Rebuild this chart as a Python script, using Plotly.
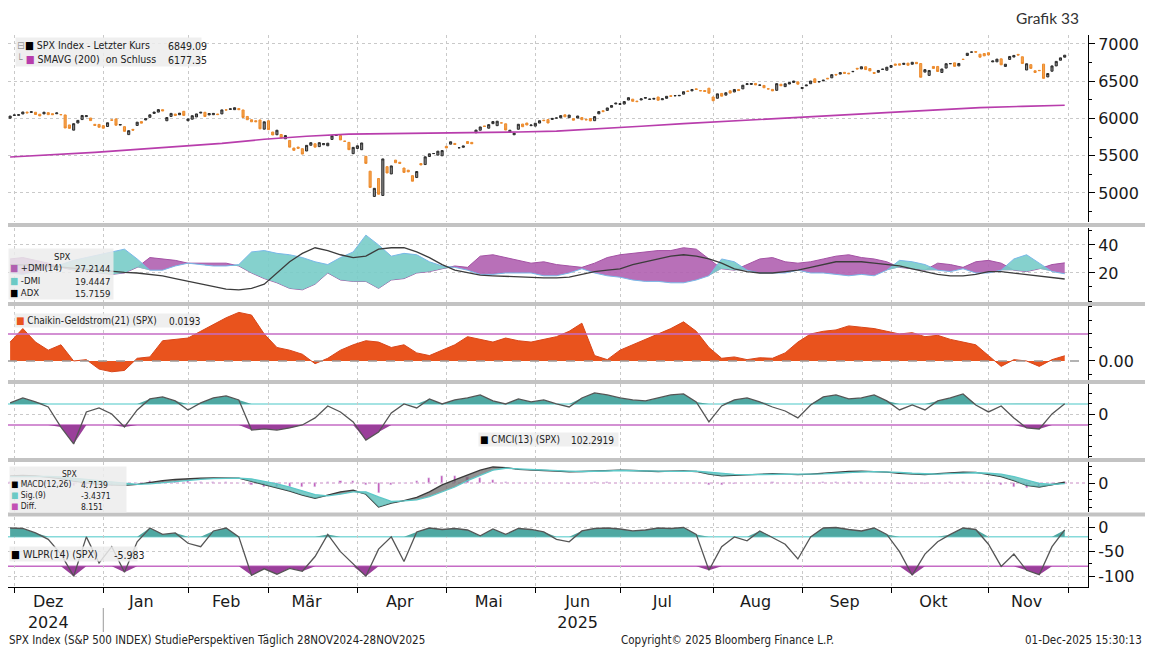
import numpy as np
import pandas as pd
import plotly.graph_objects as go
from plotly.subplots import make_subplots

# --- trading calendar (x axis) ---
HOLIDAYS = ["2024-11-28", "2024-12-25", "2025-01-01", "2025-01-09", "2025-01-20",
            "2025-02-17", "2025-04-18", "2025-05-26", "2025-06-19", "2025-07-04",
            "2025-09-01", "2025-11-27"]
TRADING_DAYS = pd.bdate_range("2024-11-29", "2025-11-28")
TRADING_DAYS = TRADING_DAYS[~TRADING_DAYS.isin(pd.to_datetime(HOLIDAYS))]

MONTH_TICKS = ["2024-12-12", "2025-01-16", "2025-02-14", "2025-03-14", "2025-04-15",
               "2025-05-15", "2025-06-16", "2025-07-16", "2025-08-15", "2025-09-16",
               "2025-10-15", "2025-11-14"]
MONTH_LABELS = ["Dez<br>2024", "Jan", "Feb", "Mär", "Apr", "Mai", "Jun<br>2025",
                "Jul", "Aug", "Sep", "Okt", "Nov"]
MONTH_STARTS = ["2024-12-02", "2025-01-02", "2025-02-03", "2025-03-03", "2025-04-01",
                "2025-05-01", "2025-06-02", "2025-07-01", "2025-08-01", "2025-09-02",
                "2025-10-01", "2025-11-03", "2025-12-01"]

# --- SPX daily bars (one value per trading day) ---
spx_close = (
    [6032]
    + [6047, 6050, 6087, 6075, 6090, 6053, 6034, 6084, 6051, 6051, 6074, 6050, 5872, 5867,
       5930, 5974, 6040, 6037, 5971, 5907, 5882]
    + [5869, 5942, 5975, 5909, 5918, 5827, 5836, 5843, 5950, 5937, 5997, 6049, 6086, 6119,
       6101, 6012, 6068, 6039, 6071, 6041]
    + [5994, 6037, 6061, 6083, 6026, 6066, 6068, 6052, 6115, 6114, 6129, 6144, 6117, 6013,
       5983, 5955, 5956, 5861, 5955]
    + [5850, 5778, 5842, 5739, 5770, 5615, 5572, 5599, 5522, 5639, 5675, 5615, 5675, 5663,
       5668, 5768, 5777, 5712, 5693, 5581, 5612]
    + [5633, 5671, 5397, 5074, 5062, 4983, 5457, 5268, 5363, 5406, 5397, 5276, 5283, 5158,
       5288, 5376, 5485, 5525, 5529, 5561, 5569]
    + [5604, 5687, 5650, 5607, 5631, 5664, 5660, 5844, 5886, 5892, 5917, 5958, 5963, 5940,
       5845, 5842, 5802, 5922, 5889, 5912, 5912]
    + [5936, 5970, 5971, 5939, 6000, 6006, 6038, 6022, 6045, 5977, 6033, 5983, 5981, 5967,
       6025, 6092, 6092, 6141, 6173, 6205]
    + [6198, 6227, 6279, 6230, 6226, 6263, 6280, 6260, 6269, 6244, 6264, 6297, 6297, 6306,
       6309, 6359, 6363, 6389, 6390, 6371, 6362, 6339]
    + [6238, 6330, 6299, 6345, 6340, 6389, 6374, 6446, 6466, 6469, 6450, 6449, 6412, 6396,
       6370, 6467, 6439, 6465, 6481, 6502, 6460]
    + [6416, 6448, 6502, 6482, 6495, 6513, 6532, 6588, 6584, 6615, 6606, 6600, 6631, 6664,
       6694, 6656, 6638, 6605, 6644, 6661, 6688]
    + [6711, 6715, 6716, 6740, 6714, 6754, 6735, 6553, 6655, 6644, 6671, 6630, 6664, 6735,
       6736, 6699, 6738, 6792, 6875, 6891, 6890, 6822, 6840]
    + [6852, 6771, 6796, 6720, 6728, 6832, 6846, 6851, 6737, 6734, 6672, 6617, 6642, 6538,
       6603, 6705, 6766, 6813, 6849]
)
spx_open = (
    [6003]
    + [6040, 6042, 6060, 6086, 6081, 6083, 6057, 6061, 6078, 6064, 6063, 6053, 6047, 5913,
       5843, 5939, 5985, 6024, 6006, 5921, 5920]
    + [5903, 5892, 5982, 5994, 5911, 5890, 5783, 5854, 5906, 5958, 5979, 6015, 6067, 6085,
       6118, 5969, 6027, 6059, 6050, 6096]
    + [5969, 5990, 6020, 6072, 6083, 6047, 6050, 6060, 6061, 6115, 6121, 6118, 6134, 6114,
       6027, 5983, 5970, 5980, 5856]
    + [5969, 5818, 5781, 5785, 5727, 5705, 5603, 5616, 5594, 5563, 5640, 5660, 5622, 5647,
       5633, 5718, 5771, 5772, 5696, 5679, 5527]
    + [5597, 5580, 5492, 5292, 4953, 5194, 4966, 5353, 5255, 5441, 5412, 5335, 5306, 5232,
       5207, 5395, 5381, 5489, 5529, 5508, 5499]
    + [5626, 5655, 5665, 5606, 5613, 5690, 5679, 5808, 5842, 5900, 5869, 5930, 5903, 5940,
       5928, 5813, 5781, 5855, 5925, 5939, 5903]
    + [5897, 5938, 5978, 5985, 5987, 6005, 6009, 6049, 6010, 5997, 6005, 6012, 5987, 5999,
       5970, 6062, 6104, 6108, 6150, 6194]
    + [6188, 6193, 6247, 6259, 6233, 6248, 6271, 6256, 6259, 6288, 6251, 6270, 6305, 6304,
       6304, 6326, 6368, 6370, 6397, 6374, 6375, 6406]
    + [6288, 6271, 6336, 6313, 6371, 6355, 6389, 6397, 6455, 6456, 6470, 6445, 6443, 6398,
       6390, 6377, 6459, 6427, 6462, 6483, 6491]
    + [6401, 6437, 6466, 6532, 6489, 6504, 6540, 6545, 6591, 6595, 6619, 6608, 6627, 6673,
       6665, 6694, 6670, 6617, 6620, 6658, 6647]
    + [6686, 6731, 6733, 6725, 6742, 6727, 6753, 6737, 6622, 6578, 6698, 6698, 6617, 6676,
       6735, 6746, 6705, 6795, 6845, 6890, 6897, 6862, 6871]
    + [6882, 6759, 6760, 6800, 6698, 6792, 6824, 6860, 6828, 6650, 6722, 6640, 6645, 6729,
       6557, 6634, 6705, 6781, 6822]
)
sma200 = [5483, 5510, 5545, 5585, 5625, 5665, 5720, 5762, 5790, 5795, 5800, 5808, 5818,
          5830, 5858, 5895, 5930, 5962, 5995, 6030, 6062, 6085, 6115, 6145, 6162, 6177]

# --- indicators (84 evenly spaced samples over the year) ---
dmi_plus = [30, 31, 29, 27, 24, 22, 21, 20, 19, 20,
            24, 31, 30, 29, 27, 27, 27, 27, 25, 20,
            16, 13, 9, 8, 12, 20, 15, 14, 14, 9,
            15, 16, 20, 21, 23, 25, 24, 32, 33, 31,
            29, 27, 28, 26, 25, 24, 27, 31, 33, 34,
            35, 36, 36, 38, 37, 30, 23, 22, 26, 30,
            31, 28, 27, 28, 30, 32, 33, 31, 30, 28,
            24, 23, 22, 27, 26, 24, 28, 29, 27, 22,
            21, 23, 26, 27.2144]
dmi_minus = [20, 19, 21, 23, 26, 29, 31, 33, 35, 37,
             30, 22, 22, 25, 27, 26, 25, 25, 26, 35,
             36, 34, 33, 31, 28, 26, 31, 35, 47, 40,
             32, 34, 33, 28, 25, 24, 22, 19, 19, 20,
             20, 20, 18, 18, 20, 23, 20, 18, 17, 15,
             14, 14, 13, 13, 15, 18, 30, 28, 22, 20,
             20, 20, 22, 20, 20, 19, 18, 19, 18, 22,
             29, 28, 26, 22, 21, 23, 20, 20, 22, 30,
             33, 27, 21, 19.4447]
adx = [26, 26, 25.5, 25, 24, 23, 22.5, 22, 21, 20.5,
       20, 19, 18, 16, 14, 12, 10, 8.5, 8, 9,
       12, 20, 28, 34, 38, 36, 33, 31, 32, 37,
       38, 38, 35, 31, 26, 22, 20, 18.5, 18, 17.5,
       17, 16.5, 16.5, 16.5, 17, 19, 21, 22, 23, 26,
       28, 30, 32, 33, 32, 30, 27, 23, 21, 20,
       20, 21, 22, 24, 26, 28, 28, 28, 27, 26,
       25, 23, 21, 19, 18, 18, 19, 21, 21, 20,
       19, 18, 17, 15.7159]
chaikin = [0.07, 0.12, 0.07, 0.04, 0.06, 0.0, 0.005, -0.03, -0.04, -0.035,
           0.01, 0.015, 0.075, 0.08, 0.085, 0.11, 0.135, 0.16, 0.18, 0.17,
           0.10, 0.05, 0.04, 0.025, -0.01, 0.01, 0.04, 0.06, 0.075, 0.07,
           0.05, 0.06, 0.03, 0.02, 0.04, 0.06, 0.09, 0.08, 0.07, 0.085,
           0.075, 0.07, 0.08, 0.09, 0.11, 0.14, 0.02, 0.005, 0.04, 0.06,
           0.08, 0.10, 0.12, 0.145, 0.11, 0.05, 0.01, 0.015, 0.005, 0.012,
           0.01, 0.03, 0.07, 0.1, 0.11, 0.115, 0.13, 0.125, 0.12, 0.11,
           0.1, 0.105, 0.09, 0.095, 0.08, 0.07, 0.06, 0.02, -0.02, 0.005,
           0.0, -0.02, 0.005, 0.0193]
cmci = [110, 157, 119, 71, -120, -280, 24, 62, 5, -119,
        43, 148, 167, 129, 43, 110, 157, 176, 138, -148,
        -138, -148, -128, -100, -33, 81, 24, -71, -243, -167,
        14, 100, 62, 148, 100, 138, 157, 186, 129, 100,
        148, 119, 138, 100, 71, 157, 205, 186, 157, 138,
        129, 157, 186, 195, 119, -71, 81, 138, 157, 119,
        71, 33, -33, 90, 167, 186, 148, 157, 186, 129,
        43, 90, 43, 129, 157, 195, 90, 24, 81, -33,
        -128, -138, 5, 102.2919]
macd = [45, 48, 45, 38, 28, 12, 2, -8, -12, -15,
        -8, 5, 15, 22, 28, 30, 32, 33, 30, 10,
        -10, -30, -50, -75, -95, -75, -55, -45, -70, -150,
        -125, -110, -90, -55, -12, 20, 50, 80, 100, 96,
        85, 80, 78, 75, 70, 72, 75, 78, 80, 78,
        75, 72, 74, 76, 72, 55, 45, 48, 52, 55,
        58, 55, 52, 56, 62, 68, 72, 74, 72, 68,
        60, 55, 52, 58, 64, 68, 66, 55, 40, 15,
        -15, -25, -12, 4.7139]
macd_sig = [40, 42, 44, 42, 38, 30, 22, 12, 4, -4,
            -8, -5, 2, 10, 18, 23, 27, 30, 31, 25,
            12, -5, -25, -50, -72, -80, -70, -55, -55, -87,
            -115, -112, -105, -85, -56, -25, 15, 50, 80, 92,
            88, 82, 80, 77, 74, 72, 72, 75, 78, 78,
            76, 74, 73, 74, 74, 68, 60, 54, 52, 53,
            55, 56, 55, 54, 57, 61, 66, 70, 71, 70,
            67, 62, 57, 56, 58, 62, 64, 62, 55, 40,
            18, -2, -8, -3.4371]
macd_diff = [5, 6, 1, -4, -10, -18, -20, -20, -16, -11,
             0, 10, 13, 12, 10, 7, 5, 3, -1, -15,
             -22, -25, -25, -25, -23, 5, 15, 10, -15, -63,
             -10, 2, 15, 30, 44, 45, 35, 30, 20, 4,
             -3, -2, -2, -2, -4, 0, 3, 3, 2, 0,
             -1, -2, 1, 2, -2, -13, -15, -6, 0, 2,
             3, -1, -3, 2, 5, 7, 6, 4, 1, -2,
             -7, -7, -5, 2, 6, 6, 2, -7, -15, -25,
             -33, -23, -4, 8.151]
wlpr = [-2, -3, -12, -25, -55, -100, -20, -73, -40, -92,
        -30, -2, -15, -12, -33, -40, -8, -2, -20, -98,
        -85, -96, -84, -90, -60, -15, -50, -75, -100, -45,
        -20, -70, -10, -2, -5, -3, -6, -18, -4, -15,
        -3, -5, -10, -25, -30, -8, -3, -2, -4, -8,
        -6, -2, -3, -1, -15, -88, -40, -20, -28, -8,
        -22, -35, -65, -20, -2, -1, -5, -8, -2, -15,
        -50, -98, -55, -30, -15, -2, -5, -35, -80, -55,
        -88, -97, -40, -5.983]

CHAIKIN_LEVEL = 0.10
CMCI_UPPER, CMCI_LOWER = 100, -100
WLPR_UPPER, WLPR_LOWER = -20, -80

TEAL = "#6ccac5"
TEAL_DARK = "#4fa8a2"
PURPLE = "#b060b0"
PURPLE_DARK = "#9a3f9a"
CYAN_LINE = "#86dada"
PURPLE_LINE = "#c56bc5"
ORANGE = "#e9531d"
LEG_FONT = "Liberation Sans Narrow, DejaVu Sans Condensed, Arial Narrow, sans-serif"
NB = "\u00a0"

# the page puts the figure 8px in from the window's top-left corner
PAGE_OFF = 8


def on_days(values):
    pos = np.round(np.linspace(0, len(TRADING_DAYS) - 1, len(values))).astype(int)
    return TRADING_DAYS[pos]


def fx(px):
    return (px - PAGE_OFF) / 1080


def fy(py):
    return (587 - py) / 552


fig = make_subplots(rows=6, cols=1, shared_xaxes=True, vertical_spacing=0.01)

# price panel
fig.add_trace(go.Candlestick(
    x=on_days(spx_close), open=spx_open, close=spx_close,
    high=np.maximum(spx_open, spx_close), low=np.minimum(spx_open, spx_close),
    increasing=dict(line=dict(color="#2a2a2a", width=1), fillcolor="#8c8c8c"),
    decreasing=dict(line=dict(color="#ec8a2c", width=1), fillcolor="#f5a34c"),
    whiskerwidth=0,
), row=1, col=1)
fig.add_trace(go.Scatter(x=on_days(sma200), y=sma200, mode="lines",
                         line=dict(color="#b83dac", width=1.6)), row=1, col=1)

# DMI panel
xi = on_days(dmi_plus)
dmi_lo = np.minimum(dmi_plus, dmi_minus)
fig.add_trace(go.Scatter(x=xi, y=dmi_lo, mode="lines", line=dict(width=0)), row=2, col=1)
fig.add_trace(go.Scatter(x=xi, y=dmi_plus, mode="lines", line=dict(color="#a452a4", width=1),
                         fill="tonexty", fillcolor="rgba(176,96,176,0.9)"), row=2, col=1)
fig.add_trace(go.Scatter(x=xi, y=dmi_lo, mode="lines", line=dict(width=0)), row=2, col=1)
fig.add_trace(go.Scatter(x=xi, y=dmi_minus, mode="lines", line=dict(color="#79b8e8", width=1),
                         fill="tonexty", fillcolor="rgba(120,204,200,0.9)"), row=2, col=1)
fig.add_trace(go.Scatter(x=xi, y=adx, mode="lines", line=dict(color="#3c3c3c", width=1.3)),
              row=2, col=1)

# Chaikin money flow
fig.add_trace(go.Scatter(x=on_days(chaikin), y=chaikin, mode="lines",
                         line=dict(color="#d9461a", width=1),
                         fill="tozeroy", fillcolor=ORANGE), row=3, col=1)

# CMCI
xc = on_days(cmci)
fig.add_trace(go.Scatter(x=xc, y=[CMCI_UPPER] * len(cmci), mode="lines", line=dict(width=0)),
              row=4, col=1)
fig.add_trace(go.Scatter(x=xc, y=np.maximum(cmci, CMCI_UPPER), mode="lines", line=dict(width=0),
                         fill="tonexty", fillcolor=TEAL_DARK), row=4, col=1)
fig.add_trace(go.Scatter(x=xc, y=[CMCI_LOWER] * len(cmci), mode="lines", line=dict(width=0)),
              row=4, col=1)
fig.add_trace(go.Scatter(x=xc, y=np.minimum(cmci, CMCI_LOWER), mode="lines", line=dict(width=0),
                         fill="tonexty", fillcolor=PURPLE_DARK), row=4, col=1)
fig.add_trace(go.Scatter(x=xc, y=cmci, mode="lines", line=dict(color="#555555", width=1.3)),
              row=4, col=1)

# MACD
xm = on_days(macd)
macd_lo = np.minimum(macd, macd_sig)
fig.add_trace(go.Bar(x=on_days(macd_diff), y=macd_diff, marker_color="#c24fb4",
                     width=0.5 * 86400000), row=5, col=1)
fig.add_trace(go.Scatter(x=xm, y=macd_lo, mode="lines", line=dict(width=0)), row=5, col=1)
fig.add_trace(go.Scatter(x=xm, y=macd, mode="lines", line=dict(color="#3a3a3a", width=1.3),
                         fill="tonexty", fillcolor="rgba(110,110,110,0.75)"), row=5, col=1)
fig.add_trace(go.Scatter(x=xm, y=macd_lo, mode="lines", line=dict(width=0)), row=5, col=1)
fig.add_trace(go.Scatter(x=xm, y=macd_sig, mode="lines", line=dict(color="#5cc8c8", width=1.3),
                         fill="tonexty", fillcolor="rgba(90,190,185,0.8)"), row=5, col=1)

# Williams %R
xw = on_days(wlpr)
fig.add_trace(go.Scatter(x=xw, y=[WLPR_UPPER] * len(wlpr), mode="lines", line=dict(width=0)),
              row=6, col=1)
fig.add_trace(go.Scatter(x=xw, y=np.maximum(wlpr, WLPR_UPPER), mode="lines", line=dict(width=0),
                         fill="tonexty", fillcolor=TEAL_DARK), row=6, col=1)
fig.add_trace(go.Scatter(x=xw, y=[WLPR_LOWER] * len(wlpr), mode="lines", line=dict(width=0)),
              row=6, col=1)
fig.add_trace(go.Scatter(x=xw, y=np.minimum(wlpr, WLPR_LOWER), mode="lines", line=dict(width=0),
                         fill="tonexty", fillcolor=PURPLE_DARK), row=6, col=1)
fig.add_trace(go.Scatter(x=xw, y=wlpr, mode="lines", line=dict(color="#555555", width=1.3)),
              row=6, col=1)

# reference levels
fig.add_hline(y=CHAIKIN_LEVEL, row=3, col=1, line=dict(color=PURPLE_LINE, width=1.5))
fig.add_hline(y=0, row=3, col=1, line=dict(color="#9a9a9a", width=1.5, dash="dash"))
fig.add_hline(y=CMCI_UPPER, row=4, col=1, line=dict(color=CYAN_LINE, width=1.5), layer="below")
fig.add_hline(y=CMCI_LOWER, row=4, col=1, line=dict(color=PURPLE_LINE, width=1.5), layer="below")
fig.add_hline(y=0, row=5, col=1, line=dict(color="#c98cc4", width=1, dash="dot"), layer="below")
fig.add_hline(y=WLPR_UPPER, row=6, col=1, line=dict(color=CYAN_LINE, width=1.5), layer="below")
fig.add_hline(y=WLPR_LOWER, row=6, col=1, line=dict(color=PURPLE_LINE, width=1.5), layer="below")

# axes
domains = [(0.6612, 1.0), (0.5163, 0.6504), (0.375, 0.5091),
           (0.2337, 0.3678), (0.1359, 0.2264), (0.0, 0.1268)]
yranges = [(4610, 7120), (-0.7, 52.1), (-0.0704, 0.2037), (-414, 290), (-181, 131), (-122, 20.4)]
yticks = [([5000, 5500, 6000, 6500, 7000], None, 250),
          ([20, 40], None, 10),
          ([0], ["0.00"], 0.05),
          ([0], ["0"], 100),
          ([0], ["0"], 50),
          ([0, -50, -100], ["0", "-50", "-100"], 25)]
for i in range(6):
    tv, tt, minor_dt = yticks[i]
    fig.update_yaxes(
        row=i + 1, col=1, side="right", domain=list(domains[i]), range=list(yranges[i]),
        tickmode="array", tickvals=tv, ticktext=tt if tt else [str(v) for v in tv],
        showline=True, linecolor="#000", linewidth=1, mirror=False,
        ticks="outside", ticklen=6, tickcolor="#000",
        tickfont=dict(family="DejaVu Sans", size=16, color="#1a1a1a"),
        showgrid=(i not in (2, 4)), gridcolor="#c9c9c9", griddash="dot", gridwidth=1,
        zeroline=False,
        minor=dict(dtick=minor_dt, ticks="outside", ticklen=3, tickcolor="#000", showgrid=False),
    )

for i in range(6):
    bottom = i == 5
    fig.update_xaxes(
        row=i + 1, col=1, type="date",
        range=["2024-11-27 12:00", "2025-12-05 12:00"],
        rangebreaks=[dict(bounds=["sat", "mon"]), dict(values=HOLIDAYS)],
        tickmode="array", tickvals=MONTH_TICKS, ticktext=MONTH_LABELS,
        showticklabels=bottom, ticks="", showgrid=False, zeroline=False,
        tickfont=dict(family="DejaVu Sans", size=16, color="#1a1a1a"),
        showline=bottom, linecolor="#000", linewidth=1,
        minor=dict(tickvals=MONTH_STARTS, showgrid=True, gridcolor="#c9c9c9", griddash="dot",
                   ticks="outside" if bottom else "", ticklen=5, tickcolor="#000"),
        rangeslider=dict(visible=False),
    )

# panel separators
for yy in [225, 304, 382, 460, 514.5]:
    fig.add_shape(type="line", xref="paper", yref="paper", x0=fx(0), x1=fx(1153),
                  y0=fy(yy), y1=fy(yy), line=dict(color="#c3c3c3", width=4))
fig.add_shape(type="line", xref="x6", yref="paper", x0="2025-01-02", x1="2025-01-02",
              y0=fy(608), y1=fy(632), line=dict(color="#999", width=1))


def legend(x, y, rows, value_x, width, size=10, header=None, header_x=None, prefix=None):
    sq = "<span style='color:%s'>■</span> %s"
    lab = [sq % (c, t) for c, t, _ in rows]
    if prefix:
        lab = ["<span style='color:#9a9a9a'>%s</span>%s" % (p, l) for p, l in zip(prefix, lab)]
    val = [v for _, _, v in rows]
    if header:
        lab = [NB] + lab
        val = [NB] + val
    fig.add_annotation(xref="paper", yref="paper", x=fx(x), y=fy(y), xanchor="left",
                       yanchor="top", align="left", showarrow=False, width=width,
                       text="<br>".join(lab), bgcolor="rgba(236,236,236,0.85)", borderpad=1,
                       font=dict(family=LEG_FONT, size=size, color="#222"))
    fig.add_annotation(xref="paper", yref="paper", x=fx(value_x), y=fy(y + 1), xanchor="left",
                       yanchor="top", align="left", showarrow=False,
                       text="<br>".join(val), font=dict(family=LEG_FONT, size=size, color="#222"))
    if header:
        fig.add_annotation(xref="paper", yref="paper", x=fx(header_x), y=fy(y + 1),
                           xanchor="center", yanchor="top", showarrow=False, text=header,
                           font=dict(family=LEG_FONT, size=size, color="#222"))


legend(15, 37, [("#000", "SPX Index - Letzter Kurs", "6849.09"),
                ("#b83dac", "SMAVG (200)  on Schluss", "6177.35")], 166, 183, size=10.5,
       prefix=["⊟", "└ "])
legend(8, 248, [(PURPLE, "+DMI(14)", "27.2144"), (TEAL, "-DMI", "19.4447"),
                ("#000", "ADX", "15.7159")], 73, 102, size=9.5, header="SPX", header_x=62)
legend(14, 313, [(ORANGE, "Chaikin-Geldstrom(21) (SPX)", "0.0193")], 167, 181)
legend(478, 432, [("#000", "CMCI(13) (SPX)", "102.2919")], 569, 137)
legend(9, 466, [("#000", "MACD(12,26)", "4.7139"), (TEAL, "Sig.(9)", "-3.4371"),
                ("#c24fb4", "Diff.", "8.151")], 79, 114, size=8.5, header="SPX", header_x=69)
legend(9, 546, [("#000", "WLPR(14) (SPX)", "-5.983")], 112, 125, size=10.5)

FOOT = dict(family=LEG_FONT, size=11.5, color="#222")
fig.add_annotation(xref="paper", yref="paper", x=fx(7), y=fy(640), xanchor="left",
                   yanchor="middle", showarrow=False, font=FOOT,
                   text="SPX Index (S&P 500 INDEX) StudiePerspektiven Täglich 28NOV2024-28NOV2025")
fig.add_annotation(xref="paper", yref="paper", x=fx(727), y=fy(640), xanchor="center",
                   yanchor="middle", showarrow=False, font=FOOT,
                   text="Copyright© 2025 Bloomberg Finance L.P.")
fig.add_annotation(xref="paper", yref="paper", x=fx(1144), y=fy(640), xanchor="right",
                   yanchor="middle", showarrow=False, font=FOOT, text="01-Dec-2025 15:30:13")
fig.add_annotation(xref="paper", yref="paper", x=fx(1081), y=fy(18), xanchor="right",
                   yanchor="middle", showarrow=False, text="Grafik 33",
                   font=dict(family="Lato, Open Sans, sans-serif", size=15.5, color="#333"))

fig.update_layout(
    width=1153 - PAGE_OFF, height=652 - PAGE_OFF,
    margin=dict(l=0, r=65, t=35 - PAGE_OFF, b=65),
    paper_bgcolor="white", plot_bgcolor="white",
    showlegend=False, hovermode=False, bargap=0,
    font=dict(family="DejaVu Sans", color="#222"),
)

fig.write_html("out.html")
